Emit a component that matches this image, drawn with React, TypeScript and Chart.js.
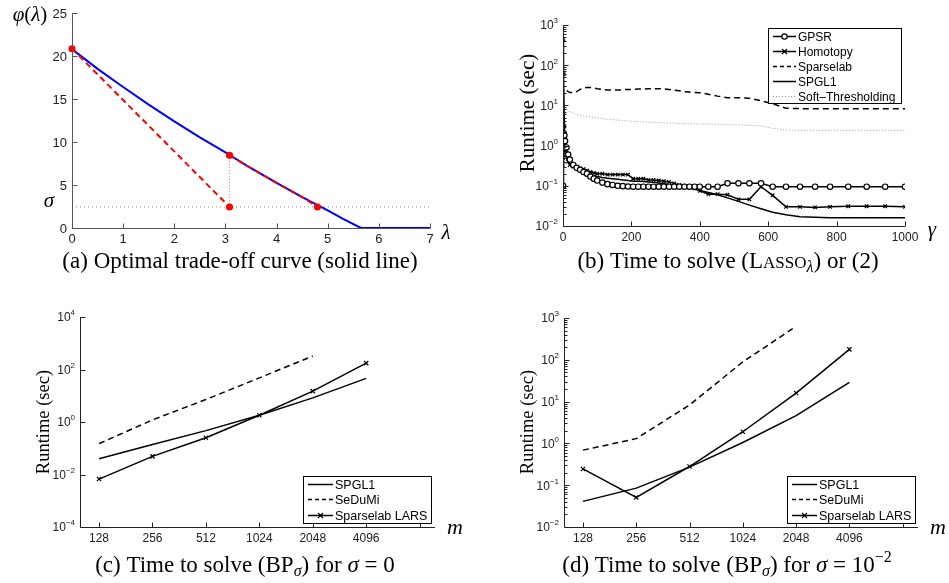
import React, { useEffect, useRef } from "react";
import { Chart, registerables } from "chart.js";
Chart.register(...registerables);

const W = 949;
const H = 583;
const SERIF = '"Liberation Serif", "Times New Roman", serif';
const SANS = '"Liberation Sans", Arial, sans-serif';

// ---------- (a) Optimal trade-off curve ----------
const lambdaCurve = [0, 0.5, 1, 1.5, 2, 2.5, 3, 3.5, 4, 4.5, 5, 5.3, 5.65, 7];
const phiCurve = [20.8, 18.5, 16.4, 14.35, 12.4, 10.55, 8.8, 6.95, 5.25, 3.6, 2.05, 1.05, 0, 0];
const sigmaLevel = 2.45;
const sigmaLineLambda = [0, 7];
const secantLambda = [0, 3.08];
const secantPhi = [20.85, 2.45];
const stepLambda = [3.08, 3.08];
const stepPhi = [2.45, 8.45];
const followLambda = [3.08, 3.5, 4, 4.5, 4.8];
const followPhi = [8.45, 6.95, 5.25, 3.6, 2.45];
const dotLambda = [0, 3.08, 3.08, 4.8];
const dotPhi = [20.85, 8.45, 2.45, 2.45];
const aXTicks = [0, 1, 2, 3, 4, 5, 6, 7];
const aYTicks = [0, 5, 10, 15, 20, 25];

// ---------- (b) Runtime vs gamma ----------
const gammaValues = [0, 1, 2, 4, 6, 10, 15, 20, 30, 40, 50, 60, 70, 80, 90, 100, 115, 130, 145, 160, 175, 190, 205, 220, 235, 250, 265, 280, 295, 310, 325, 340, 355, 370, 385, 400, 425, 452, 481, 513, 545, 579, 613, 652, 693, 737, 781, 834, 888, 942, 1000];
const gpsrTime = [0.1, 1.6, 2.0, 1.8, 1.3, 0.9, 0.6, 0.45, 0.33, 0.28, 0.25, 0.22, 0.2, 0.17, 0.15, 0.135, 0.12, 0.11, 0.105, 0.1, 0.098, 0.096, 0.095, 0.095, 0.095, 0.095, 0.095, 0.095, 0.095, 0.095, 0.095, 0.095, 0.095, 0.095, 0.095, 0.095, 0.095, 0.095, 0.115, 0.115, 0.115, 0.115, 0.095, 0.095, 0.095, 0.095, 0.095, 0.095, 0.095, 0.095, 0.095];
const homotopyTime = [0.5, 450, 60, 3, 1.2, 0.6, 0.4, 0.33, 0.3, 0.28, 0.27, 0.26, 0.24, 0.22, 0.21, 0.2, 0.2, 0.19, 0.19, 0.19, 0.19, 0.19, 0.15, 0.15, 0.15, 0.14, 0.14, 0.135, 0.13, 0.125, 0.115, 0.105, 0.1, 0.092, 0.085, 0.075, 0.062, 0.062, 0.06, 0.046, 0.046, 0.095, 0.058, 0.03, 0.03, 0.029, 0.03, 0.031, 0.031, 0.031, 0.03];
const spgl1Time = [0.3, 2.2, 1.5, 0.9, 0.7, 0.5, 0.4, 0.34, 0.3, 0.27, 0.25, 0.23, 0.21, 0.19, 0.18, 0.17, 0.16, 0.155, 0.15, 0.145, 0.14, 0.135, 0.13, 0.13, 0.128, 0.125, 0.122, 0.118, 0.113, 0.108, 0.103, 0.098, 0.093, 0.088, 0.083, 0.077, 0.068, 0.06, 0.05, 0.041, 0.033, 0.027, 0.022, 0.019, 0.017, 0.0165, 0.016, 0.016, 0.016, 0.016, 0.016];
const sparselabTime = [20, 25, 22, 22, 23, 24, 22, 21, 21, 22, 25, 27, 28, 28, 27, 26, 25, 24, 24, 24, 24.5, 25, 25, 25.5, 25.5, 26, 26, 26, 25.5, 25, 24, 23, 22, 21.5, 21, 20.5, 19, 17, 15.5, 15.5, 15, 13, 11, 8.5, 8.3, 8.3, 8.3, 8.3, 8.3, 8.3, 8.3];
const softTime = [15, 12, 10, 9, 8.5, 8, 7.5, 7, 6.5, 6, 5.7, 5.5, 5.3, 5.1, 5, 4.9, 4.7, 4.5, 4.4, 4.3, 4.2, 4.1, 4, 3.95, 3.9, 3.85, 3.8, 3.75, 3.7, 3.65, 3.6, 3.55, 3.5, 3.5, 3.45, 3.45, 3.4, 3.4, 3.3, 3.3, 3.2, 3.1, 2.7, 2.45, 2.4, 2.4, 2.4, 2.4, 2.4, 2.4, 2.4];
const bXTicks = [0, 200, 400, 600, 800, 1000];
const bYExponents = [-2, -1, 0, 1, 2, 3];
const bLegendLabels = ["GPSR", "Homotopy", "Sparselab", "SPGL1", "Soft\u2013Thresholding"];

// ---------- (c), (d) Runtime vs m ----------
const mSizes = [128, 256, 512, 1024, 2048, 4096];
const mTickLabels = ["128", "256", "512", "1024", "2048", "4096"];
const cSpgl1 = [0.04, 0.14, 0.47, 1.8, 8.3, 46];
const cSedumi = [0.15, 1.2, 7.2, 48, 325];
const cLars = [0.0067, 0.049, 0.25, 1.8, 15, 175];
const cYExponents = [-4, -2, 0, 2, 4];
const dSpgl1 = [0.041, 0.085, 0.27, 1.05, 4.6, 29];
const dSedumi = [0.69, 1.3, 8.3, 89, 630];
const dLars = [0.245, 0.051, 0.28, 1.9, 16, 178];
const dYExponents = [-2, -1, 0, 1, 2, 3];
const cdLegendLabels = ["SPGL1", "SeDuMi", "Sparselab LARS"];

// ---------- helpers ----------
type Run = { t: string; size: number; italic?: boolean; dy?: number; family?: string };
type TextItem = { runs: Run[]; x: number; y: number; align?: "left" | "center" | "right"; rotate?: boolean; color?: string };
type Tick = { v: number; label?: string; exp?: string };
type LegendRow = { label: string; dash?: number[]; marker?: "circle" | "cross"; color?: string; width?: number };
type Legend = { x: number; y: number; w: number; h: number; rows: LegendRow[]; rowH: number; fontSize: number; sampleX: number; sampleW: number; pad: number };
type Decor = {
  axisColor: string;
  labelColor: string;
  tickSize: number;
  xTicks: Tick[];
  yTicks: Tick[];
  xMinor?: number[];
  yMinor?: number[];
  majorLen: number;
  minorLen: number;
  texts: TextItem[];
  legend?: Legend;
};

const fontOf = (r: Run) => `${r.italic ? "italic " : ""}${r.size}px ${r.family || SERIF}`;

function drawRuns(ctx: CanvasRenderingContext2D, runs: Run[], x: number, y: number, align: string, color: string) {
  let total = 0;
  const widths = runs.map((r) => {
    ctx.font = fontOf(r);
    const w = ctx.measureText(r.t).width;
    total += w;
    return w;
  });
  let cx = align === "left" ? x : align === "center" ? x - total / 2 : x - total;
  ctx.fillStyle = color;
  ctx.textBaseline = "alphabetic";
  ctx.textAlign = "left";
  runs.forEach((r, i) => {
    ctx.font = fontOf(r);
    ctx.fillText(r.t, cx, y + (r.dy || 0));
    cx += widths[i];
  });
}

function drawMarker(ctx: CanvasRenderingContext2D, kind: string, x: number, y: number, color: string) {
  ctx.save();
  ctx.strokeStyle = color;
  ctx.lineWidth = 1.2;
  ctx.setLineDash([]);
  if (kind === "circle") {
    ctx.fillStyle = "#fff";
    ctx.beginPath();
    ctx.arc(x, y, 2.7, 0, Math.PI * 2);
    ctx.fill();
    ctx.stroke();
  } else {
    const r = 2.5;
    ctx.beginPath();
    ctx.moveTo(x - r, y - r);
    ctx.lineTo(x + r, y + r);
    ctx.moveTo(x - r, y + r);
    ctx.lineTo(x + r, y - r);
    ctx.stroke();
  }
  ctx.restore();
}

function decorPlugin(d: Decor) {
  return {
    id: "decor",
    afterDraw(chart: any) {
      const ctx: CanvasRenderingContext2D = chart.ctx;
      const { left, top, right, bottom } = chart.chartArea;
      const xs = chart.scales.x;
      const ys = chart.scales.y;
      ctx.save();
      ctx.strokeStyle = d.axisColor;
      ctx.lineWidth = 1;
      ctx.setLineDash([]);
      const L = Math.round(left) + 0.5;
      const B = Math.round(bottom) + 0.5;
      ctx.beginPath();
      ctx.moveTo(L, Math.round(top));
      ctx.lineTo(L, B);
      ctx.lineTo(Math.round(right), B);
      ctx.stroke();
      // ticks
      ctx.beginPath();
      d.xTicks.forEach((t) => {
        const px = Math.round(xs.getPixelForValue(t.v)) + 0.5;
        ctx.moveTo(px, B);
        ctx.lineTo(px, B - d.majorLen);
      });
      (d.xMinor || []).forEach((v) => {
        const px = Math.round(xs.getPixelForValue(v)) + 0.5;
        ctx.moveTo(px, B);
        ctx.lineTo(px, B - d.minorLen);
      });
      d.yTicks.forEach((t) => {
        const py = Math.round(ys.getPixelForValue(t.v)) + 0.5;
        ctx.moveTo(L, py);
        ctx.lineTo(L + d.majorLen, py);
      });
      (d.yMinor || []).forEach((v) => {
        const py = Math.round(ys.getPixelForValue(v)) + 0.5;
        ctx.moveTo(L, py);
        ctx.lineTo(L + d.minorLen, py);
      });
      ctx.stroke();
      // tick labels
      const s = d.tickSize;
      d.xTicks.forEach((t) => {
        if (!t.label) return;
        const px = xs.getPixelForValue(t.v);
        drawRuns(ctx, [{ t: t.label, size: s, family: SANS }], px, bottom + 6 + s * 0.72, "center", d.labelColor);
      });
      d.yTicks.forEach((t) => {
        if (!t.label) return;
        const py = ys.getPixelForValue(t.v);
        const runs: Run[] = [{ t: t.label, size: s, family: SANS }];
        if (t.exp) runs.push({ t: t.exp, size: Math.round(s * 0.68), family: SANS, dy: -s * 0.5 });
        drawRuns(ctx, runs, left - 5, py + s * 0.36, "right", d.labelColor);
      });
      // free texts
      d.texts.forEach((tx) => {
        const color = tx.color || "#000";
        if (tx.rotate) {
          ctx.save();
          ctx.translate(tx.x, tx.y);
          ctx.rotate(-Math.PI / 2);
          drawRuns(ctx, tx.runs, 0, tx.runs[0].size * 0.32, "center", color);
          ctx.restore();
        } else {
          drawRuns(ctx, tx.runs, tx.x, tx.y, tx.align || "center", color);
        }
      });
      // legend
      if (d.legend) {
        const g = d.legend;
        ctx.fillStyle = "#fff";
        ctx.fillRect(g.x, g.y, g.w, g.h);
        ctx.strokeStyle = "#000";
        ctx.lineWidth = 1;
        ctx.strokeRect(g.x + 0.5, g.y + 0.5, g.w, g.h);
        g.rows.forEach((r, i) => {
          const cy = Math.round(g.y + g.pad + g.rowH * (i + 0.5)) + 0.5;
          const color = r.color || "#000";
          ctx.save();
          ctx.strokeStyle = color;
          ctx.lineWidth = r.width || 1.5;
          ctx.setLineDash(r.dash || []);
          ctx.beginPath();
          ctx.moveTo(g.x + g.sampleX, cy);
          ctx.lineTo(g.x + g.sampleX + g.sampleW, cy);
          ctx.stroke();
          ctx.restore();
          if (r.marker) drawMarker(ctx, r.marker, g.x + g.sampleX + g.sampleW / 2, cy, color);
          drawRuns(ctx, [{ t: r.label, size: g.fontSize, family: SANS }], g.x + g.sampleX + g.sampleW + 2, cy + g.fontSize * 0.36, "left", "#000");
        });
      }
      ctx.restore();
    },
  };
}

const pts = (xs: number[], ys: number[]) => ys.map((y, i) => ({ x: xs[i], y }));

type Rect = { l: number; t: number; r: number; b: number };

function makeConfig(datasets: any[], xScale: any, yScale: any, rect: Rect, decor: Decor): any {
  return {
    type: "line",
    data: { datasets },
    options: {
      animation: false,
      responsive: false,
      maintainAspectRatio: false,
      devicePixelRatio: 1,
      events: [],
      layout: { padding: { left: rect.l, top: rect.t, right: W - rect.r, bottom: H - rect.b } },
      plugins: { legend: { display: false }, tooltip: { enabled: false }, title: { display: false } },
      elements: { line: { tension: 0 } },
      scales: { x: { ...xScale, display: false }, y: { ...yScale, display: false } },
    },
    plugins: [decorPlugin(decor)],
  };
}

const line = (data: any[], o: any = {}) => ({
  data,
  borderColor: "#000",
  borderWidth: 1.5,
  pointRadius: 0,
  fill: false,
  ...o,
});

const caption = (runs: Run[], x: number, y: number): TextItem => ({ runs, x, y, align: "center" });
const CAP = 23;
const SUB = 16;

const logMinor = (lo: number, hi: number) => {
  const out: number[] = [];
  for (let k = lo; k < hi; k++) for (let m = 2; m <= 9; m++) out.push(m * Math.pow(10, k));
  return out;
};

// ---------- configs ----------
function configA() {
  const ds = [
    line(pts(dotLambda, dotPhi), { showLine: false, pointRadius: 2.8, pointBackgroundColor: "#ff0000", pointBorderColor: "#ff0000", order: 1, clip: false }),
    line(pts(followLambda, followPhi), { borderColor: "#ff0000", borderWidth: 2, borderDash: [6, 4], order: 2 }),
    line(pts(secantLambda, secantPhi), { borderColor: "#ff0000", borderWidth: 2, borderDash: [6, 4], order: 2 }),
    line(pts(lambdaCurve, phiCurve), { borderColor: "#0000ff", borderWidth: 2, order: 3, clip: false }),
    line(pts(stepLambda, stepPhi), { borderColor: "rgba(255,80,80,0.8)", borderWidth: 1, borderDash: [1, 2], order: 4 }),
    line(pts(sigmaLineLambda, [sigmaLevel, sigmaLevel]), { borderColor: "#8a8a8a", borderWidth: 1, borderDash: [1, 3], order: 5, clip: false }),
  ];
  const decor: Decor = {
    axisColor: "#555",
    labelColor: "#222",
    tickSize: 13,
    xTicks: aXTicks.map((v) => ({ v, label: String(v) })),
    yTicks: aYTicks.map((v) => ({ v, label: String(v) })),
    majorLen: 5,
    minorLen: 3,
    texts: [
      { runs: [{ t: "\u03c6", size: 21, italic: true }, { t: "(", size: 21 }, { t: "\u03bb", size: 21, italic: true }, { t: ")", size: 21 }], x: 30, y: 21 },
      { runs: [{ t: "\u03c3", size: 21, italic: true }], x: 49, y: 207 },
      { runs: [{ t: "\u03bb", size: 21, italic: true }], x: 446, y: 239 },
      caption([{ t: "(a) Optimal trade-off curve (solid line)", size: CAP }], 240, 268),
    ],
  };
  return makeConfig(ds, { type: "linear", min: 0, max: 7 }, { type: "linear", min: 0, max: 25 }, { l: 72, t: 13, r: 430, b: 228 }, decor);
}

function configB() {
  const ds = [
    line(pts(gammaValues, gpsrTime), { pointRadius: 2.7, pointStyle: "circle", pointBackgroundColor: "#fff", pointBorderColor: "#000", pointBorderWidth: 1.2, order: 1 }),
    line(pts(gammaValues, homotopyTime), { pointRadius: 2.5, pointStyle: "crossRot", pointBorderColor: "#000", pointBorderWidth: 1.2, order: 2 }),
    line(pts(gammaValues, sparselabTime), { borderDash: [6, 4], order: 3 }),
    line(pts(gammaValues, spgl1Time), { order: 4 }),
    line(pts(gammaValues, softTime), { borderColor: "#9a9a9a", borderWidth: 1, borderDash: [1, 2], order: 5 }),
  ];
  const decor: Decor = {
    axisColor: "#222",
    labelColor: "#222",
    tickSize: 12,
    xTicks: bXTicks.map((v) => ({ v, label: String(v) })),
    yTicks: bYExponents.map((e) => ({ v: Math.pow(10, e), label: "10", exp: e < 0 ? "\u2212" + Math.abs(e) : String(e) })),
    yMinor: logMinor(-2, 3),
    majorLen: 5,
    minorLen: 3,
    texts: [
      { runs: [{ t: "Runtime (sec)", size: 21 }], x: 527, y: 113, rotate: true },
      { runs: [{ t: "\u03b3", size: 21, italic: true }], x: 932, y: 236 },
      caption([{ t: "(b) Time to solve (", size: CAP }, { t: "L", size: CAP }, { t: "ASSO", size: 17 }, { t: "\u03bb", size: SUB, italic: true, dy: 4 }, { t: ") or (2)", size: CAP }], 728, 268),
    ],
    legend: {
      x: 768, y: 28, w: 133, h: 75, rowH: 15, pad: 0, fontSize: 12, sampleX: 5, sampleW: 23,
      rows: [
        { label: bLegendLabels[0], marker: "circle" },
        { label: bLegendLabels[1], marker: "cross" },
        { label: bLegendLabels[2], dash: [4, 3] },
        { label: bLegendLabels[3] },
        { label: bLegendLabels[4], dash: [1, 2], color: "#9a9a9a", width: 1 },
      ],
    },
  };
  return makeConfig(ds, { type: "linear", min: 0, max: 1000 }, { type: "logarithmic", min: 0.01, max: 1000 }, { l: 563, t: 25, r: 905, b: 226 }, decor);
}

function configCD(which: "c" | "d") {
  const isC = which === "c";
  const spgl = isC ? cSpgl1 : dSpgl1;
  const sedumi = isC ? cSedumi : dSedumi;
  const lars = isC ? cLars : dLars;
  const exps = isC ? cYExponents : dYExponents;
  const ds = [
    line(pts(mSizes, spgl), { order: 1 }),
    line(pts(mSizes, sedumi), { borderDash: [6, 4], order: 2 }),
    line(pts(mSizes, lars), { pointRadius: 3, pointStyle: "crossRot", pointBorderColor: "#000", pointBorderWidth: 1.2, order: 3 }),
  ];
  const rect = isC ? { l: 80, t: 317, r: 435, b: 527 } : { l: 564, t: 318, r: 918, b: 527 };
  const capRuns: Run[] = [
    { t: `(${which}) Time to solve (BP`, size: CAP },
    { t: "\u03c3", size: SUB, italic: true, dy: 4 },
    { t: ") for ", size: CAP },
    { t: "\u03c3", size: CAP, italic: true },
    { t: isC ? " = 0" : " = 10", size: CAP },
  ];
  if (!isC) capRuns.push({ t: "\u22122", size: SUB, dy: -10 });
  const decor: Decor = {
    axisColor: "#222",
    labelColor: "#222",
    tickSize: 12,
    xTicks: [...mSizes.map((v, i) => ({ v, label: mTickLabels[i] })), { v: 8192 }],
    yTicks: exps.map((e) => ({ v: Math.pow(10, e), label: "10", exp: e < 0 ? "\u2212" + Math.abs(e) : String(e) })),
    yMinor: isC ? [] : logMinor(-2, 3),
    majorLen: 5,
    minorLen: 3,
    texts: [
      { runs: [{ t: "Runtime (sec)", size: 18.5 }], x: isC ? 43 : 527, y: 422, rotate: true },
      { runs: [{ t: "m", size: 22, italic: true }], x: isC ? 455 : 938, y: 534 },
      caption(capRuns, isC ? 245 : 727, 572),
    ],
    legend: {
      x: isC ? 303 : 787, y: 476, w: 128, h: 47, rowH: 15.5, pad: 0, fontSize: 12.5, sampleX: 5, sampleW: 25,
      rows: [
        { label: cdLegendLabels[0] },
        { label: cdLegendLabels[1], dash: [4, 3] },
        { label: cdLegendLabels[2], marker: "cross" },
      ],
    },
  };
  return makeConfig(ds, { type: "logarithmic", min: 100, max: 10000 }, { type: "logarithmic", min: Math.pow(10, exps[0]), max: Math.pow(10, exps[exps.length - 1]) }, rect, decor);
}

function ChartCanvas({ make }: { make: () => any }) {
  const ref = useRef<HTMLCanvasElement>(null);
  useEffect(() => {
    const chart = new Chart(ref.current as HTMLCanvasElement, make());
    return () => chart.destroy();
  }, []);
  return <canvas ref={ref} width={W} height={H} style={{ position: "absolute", left: 0, top: 0, width: W, height: H }} />;
}

export default function App() {
  return (
    <div style={{ position: "absolute", left: 0, top: 0, width: W, height: H, background: "#fff", overflow: "hidden" }}>
      <ChartCanvas make={configA} />
      <ChartCanvas make={configB} />
      <ChartCanvas make={() => configCD("c")} />
      <ChartCanvas make={() => configCD("d")} />
    </div>
  );
}
